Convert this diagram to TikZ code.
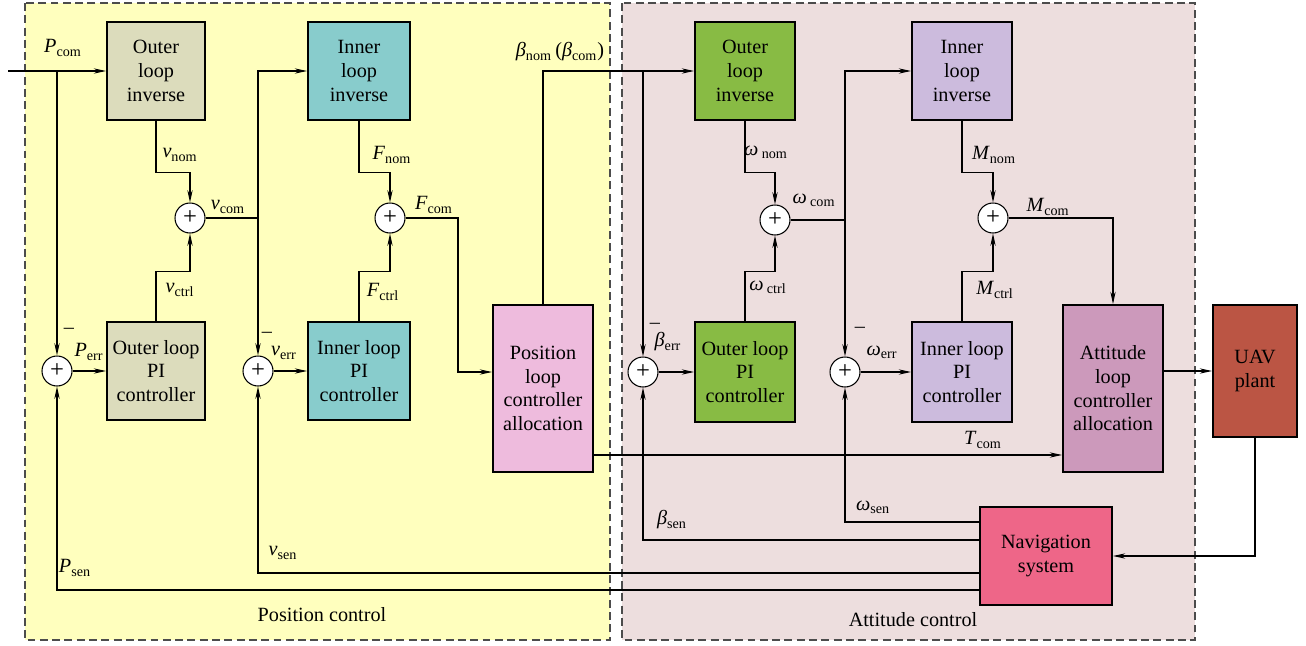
\documentclass[tikz,border=0pt]{standalone}
\usepackage{fontspec}
\setmainfont{LiberationSerif}[Extension=.ttf, UprightFont=*-Regular, ItalicFont=*-Italic, BoldFont=*-Bold, BoldItalicFont=*-BoldItalic]
\usetikzlibrary{arrows.meta}

\definecolor{posbg}{RGB}{255,255,190}
\definecolor{attbg}{RGB}{237,222,222}
\definecolor{posouter}{RGB}{220,220,188}
\definecolor{posinner}{RGB}{136,204,204}
\definecolor{posalloc}{RGB}{238,187,221}
\definecolor{attouter}{RGB}{136,187,68}
\definecolor{attinner}{RGB}{204,187,221}
\definecolor{attalloc}{RGB}{204,153,187}
\definecolor{uavred}{RGB}{187,85,68}
\definecolor{navpink}{RGB}{238,102,136}

\begin{document}
\begin{tikzpicture}[x=0.02cm, y=-0.02cm,
        every node/.style={font=\fontsize{11.5}{13.5}\selectfont},
        blk/.style={draw = black, line width=1.1pt, align=center, inner sep=1pt},
        sumnode/.style={circle, draw = black, fill = white, line width=0.6pt, minimum size=0.6cm, inner sep=0pt, font=\fontsize{14}{14}\selectfont},
        sig/.style={color = black, line width=0.6pt},
        arr/.style={sig, -{Stealth[length=7pt, width=3pt]}},
        frame/.style={draw = black!70, dash pattern=on 4.5pt off 2.5pt, line width=0.8pt}]
        \useasboundingbox (0,0) rectangle (1306,646);
        \draw[frame, fill = posbg] (25,3) rectangle (610,640);
        \draw[frame, fill = attbg] (622,3) rectangle (1195,640);

        \node[blk, fill = posouter, minimum width=1.96cm, minimum height=1.96cm] (poi) at (156,71) {Outer\\loop\\inverse};
        \node[blk, fill = posinner, minimum width=2.04cm, minimum height=1.96cm] (pii) at (359,71) {Inner\\loop\\inverse};
        \node[blk, fill = posouter, minimum width=1.96cm, minimum height=1.96cm] (popi) at (156,371) {Outer loop\\PI\\controller};
        \node[blk, fill = posinner, minimum width=2.04cm, minimum height=1.96cm] (pipi) at (359,371) {Inner loop\\PI\\controller};
        \node[blk, fill = posalloc, minimum width=2cm, minimum height=3.34cm] (palloc) at (543,388.5) {Position\\loop\\controller\\allocation};
        \node[blk, fill = attouter, minimum width=2cm, minimum height=1.96cm] (aoi) at (745,71) {Outer\\loop\\inverse};
        \node[blk, fill = attinner, minimum width=2cm, minimum height=1.96cm] (aii) at (962,71) {Inner\\loop\\inverse};
        \node[blk, fill = attouter, minimum width=2cm, minimum height=2cm] (aopi) at (745,372) {Outer loop\\PI\\controller};
        \node[blk, fill = attinner, minimum width=2cm, minimum height=2cm] (aipi) at (962,372) {Inner loop\\PI\\controller};
        \node[blk, fill = attalloc, minimum width=2cm, minimum height=3.34cm] (aalloc) at (1113,388.5) {Attitude\\loop\\controller\\allocation};
        \node[blk, fill = uavred, minimum width=1.68cm, minimum height=2.64cm] (uav) at (1255,371) {UAV\\plant};
        \node[blk, fill = navpink, minimum width=2.64cm, minimum height=1.96cm] (nav) at (1046,556) {Navigation\\system};

        \node[sumnode] (s1) at (190,218) {+};
        \node[sumnode] (s2) at (390,218) {+};
        \node[sumnode] (s3) at (57,371) {+};
        \node[sumnode] (s4) at (258,371) {+};
        \node[sumnode] (s5) at (643,372) {+};
        \node[sumnode] (s6) at (775,220) {+};
        \node[sumnode] (s7) at (845,372) {+};
        \node[sumnode] (s8) at (993,218) {+};

        \coordinate (in) at (8,71);
        \coordinate (b1) at (57,71);
        \coordinate (j1) at (258,218);
        \coordinate (j2) at (458,218);
        \coordinate (b2) at (643,71);
        \coordinate (j3) at (845,220);
        \coordinate (tout) at ([yshift=-1.33cm]palloc.east);
        \coordinate (n1) at ([yshift=0.68cm]nav.west);
        \coordinate (n2) at ([yshift=0.32cm]nav.west);
        \coordinate (n3) at ([yshift=-0.34cm]nav.west);
        \coordinate (n4) at ([yshift=-0.68cm]nav.west);

        \draw[arr] (in) -- (poi.west);
        \draw[arr] (b1) -- (s3.north);
        \draw[arr] (poi.south) -- ++(0,52) -| (s1.north);
        \draw[arr] (popi.north) -- ++(0,-50) -| (s1.south);
        \draw[sig] (s1.east) -- (j1);
        \draw[arr] (j1) |- (pii.west);
        \draw[arr] (j1) -- (s4.north);
        \draw[arr] (s3.east) -- (popi.west);
        \draw[arr] (s4.east) -- (pipi.west);
        \draw[arr] (pii.south) -- ++(0,52) -| (s2.north);
        \draw[arr] (pipi.north) -- ++(0,-50) -| (s2.south);
        \draw[arr] (s2.east) -- (j2) |- ([yshift=0.33cm]palloc.west);
        \draw[arr] (palloc.north) |- (aoi.west);
        \draw[arr] (b2) -- (s5.north);
        \draw[arr] (tout) -- (tout -| aalloc.west);

        \draw[arr] (aoi.south) -- ++(0,52) -| (s6.north);
        \draw[arr] (aopi.north) -- ++(0,-50) -| (s6.south);
        \draw[sig] (s6.east) -- (j3);
        \draw[arr] (j3) |- (aii.west);
        \draw[arr] (j3) -- (s7.north);
        \draw[arr] (s5.east) -- (aopi.west);
        \draw[arr] (s7.east) -- (aipi.west);
        \draw[arr] (aii.south) -- ++(0,52) -| (s8.north);
        \draw[arr] (aipi.north) -- ++(0,-50) -| (s8.south);
        \draw[arr] (s8.east) -| (aalloc.north);
        \draw[arr] (uav.west -| aalloc.east) -- (uav.west);
        \draw[arr] (uav.south) |- (nav.east);
        \draw[arr] (n1) -| (s7.south);
        \draw[arr] (n2) -| (s5.south);
        \draw[arr] (n3) -| (s4.south);
        \draw[arr] (n4) -| (s3.south);

        \node (lpcom) at (63,48) {\textit{P}\textsubscript{com}};
        \node (lvnom) at (180,155) {\textit{v}\textsubscript{nom}};
        \node (lvctrl) at (180,290) {\textit{v}\textsubscript{ctrl}};
        \node (lvcom) at (228,207) {\textit{v}\textsubscript{com}};
        \node (lfnom) at (392,155) {\textit{F}\textsubscript{nom}};
        \node (lfctrl) at (383,292) {\textit{F}\textsubscript{ctrl}};
        \node (lfcom) at (434,205) {\textit{F}\textsubscript{com}};
        \node (lperr) at (89,352) {\textit{P}\textsubscript{err}};
        \node (lverr) at (284,353) {\textit{v}\textsubscript{err}};
        \node (lbnom) at (560,52) {\textit{β}\textsubscript{nom}\,(\textit{β}\textsubscript{com})};
        \node (lwnom) at (766,152) {\textit{ω}\,\textsubscript{nom}};
        \node (lwcom) at (814,200) {\textit{ω}\,\textsubscript{com}};
        \node (lwctrl) at (768,287) {\textit{ω}\,\textsubscript{ctrl}};
        \node (lmnom) at (994,155) {\textit{M}\textsubscript{nom}};
        \node (lmcom) at (1048,207) {\textit{M}\textsubscript{com}};
        \node (lmctrl) at (995,290) {\textit{M}\textsubscript{ctrl}};
        \node (lberr) at (668,342) {\textit{β}\textsubscript{err}};
        \node (lwerr) at (882,352) {\textit{ω}\textsubscript{err}};
        \node (ltcom) at (983,440) {\textit{T}\textsubscript{com}};
        \node (lbsen) at (672,520) {\textit{β}\textsubscript{sen}};
        \node (lwsen) at (873,507) {\textit{ω}\textsubscript{sen}};
        \node (lvsen) at (283,553) {\textit{v}\textsubscript{sen}};
        \node (lpsen) at (75,568) {\textit{P}\textsubscript{sen}};
        \node (m1) at (69,331) {–};
        \node (m2) at (267,335) {–};
        \node (m3) at (655,326) {–};
        \node (m4) at (860,330) {–};
        \node (lpos) at (322,615) {Position control};
        \node (latt) at (913,620) {Attitude control};
\end{tikzpicture}
\end{document}
